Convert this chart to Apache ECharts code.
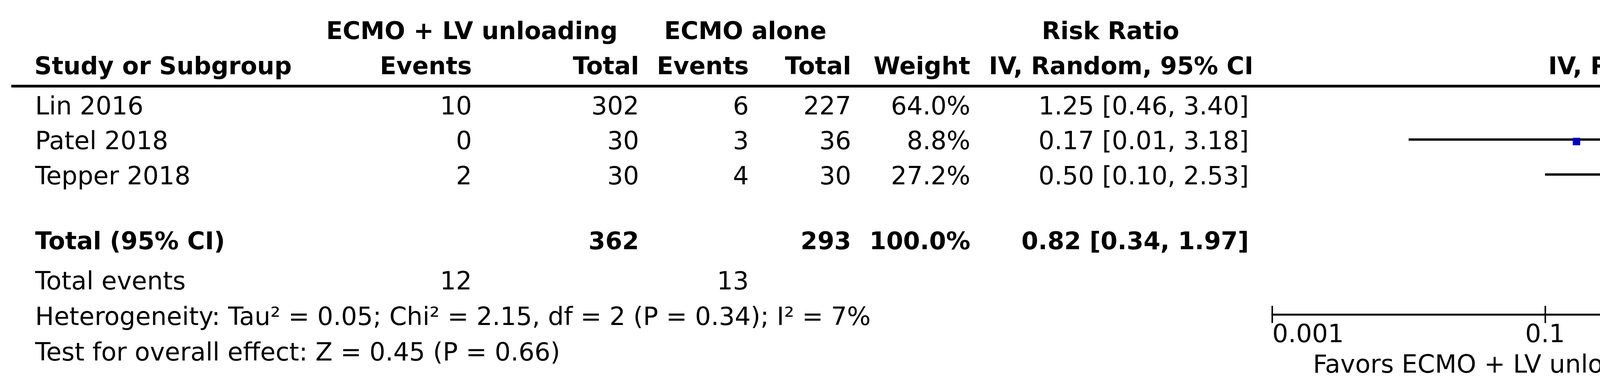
<!DOCTYPE html>
<html>
<head>
<meta charset="utf-8">
<script src="https://cdn.jsdelivr.net/npm/echarts@6/dist/echarts.min.js"></script>
<style>
html,body{margin:0;padding:0;background:#fff;overflow:hidden;}
#chart{width:5450px;height:1001px;}
</style>
</head>
<body>
<div id="chart"></div>
<script>
// ---------------- data ----------------
const studies = ['Lin 2016', 'Patel 2018', 'Tepper 2018'];
const expEvents = [10, 0, 2];
const expTotal = [302, 30, 30];
const ctrlEvents = [6, 3, 4];
const ctrlTotal = [227, 36, 30];
const weights = [64.0, 8.8, 27.2];
const rr = [1.25, 0.17, 0.50];
const rrLow = [0.46, 0.01, 0.10];
const rrHigh = [3.40, 3.18, 2.53];
const pooled = [0.82, 0.34, 1.97];           // estimate, low, high
const pooledWeight = 100.0;
const xTicks = [0.001, 0.1, 1, 10, 1000];
const xTickLabels = ['0.001', '0.1', '1', '10', '1000'];
const hetText = 'Heterogeneity: Tau\u00B2 = 0.05; Chi\u00B2 = 2.15, df = 2 (P = 0.34); I\u00B2 = 7%';
const testText = 'Test for overall effect: Z = 0.45 (P = 0.66)';
const groupLabels = ['ECMO + LV unloading', 'ECMO alone'];
const favorsLabels = ['Favors ECMO + LV unloading', 'Favors ECMO alone'];

// ---------------- layout ----------------
const FONT = '"DejaVu Sans", "Noto Sans", sans-serif';
const REG = '64px ' + FONT;
const BOLD = 'bold 62px ' + FONT;
const rowIdx = [0, 1, 2];
const totalRowIdx = 4;
const rowTextY = [276, 365.5, 455];
const sum = a => a.reduce((s, v) => s + v, 0);
const fmtCI = (e, l, h) => e.toFixed(2) + ' [' + l.toFixed(2) + ', ' + h.toFixed(2) + ']';

function txt(text, x, y, align, font) {
  return {
    type: 'text', x: x, y: y, silent: true,
    style: { text: text, font: font || REG, fill: '#000',
      align: align, textAlign: align, verticalAlign: 'middle', textVerticalAlign: 'middle' }
  };
}

const els = [];
els.push(txt(groupLabels[0], 1208, 84, 'center', BOLD));
els.push(txt(groupLabels[1], 1908, 84, 'center', BOLD));
els.push(txt('Risk Ratio', 2843, 84, 'center', BOLD));
els.push(txt('Risk Ratio', 4302, 84, 'center', BOLD));
els.push(txt('Study or Subgroup', 88, 174, 'left', BOLD));
els.push(txt('Events', 1208, 174, 'right', BOLD));
els.push(txt('Total', 1636, 174, 'right', BOLD));
els.push(txt('Events', 1917, 174, 'right', BOLD));
els.push(txt('Total', 2179, 174, 'right', BOLD));
els.push(txt('Weight', 2484, 174, 'right', BOLD));
els.push(txt('IV, Random, 95% CI', 2870, 174, 'center', BOLD));
els.push(txt('IV, Random, 95% CI', 4302, 174, 'center', BOLD));
els.push({ type: 'line', silent: true, shape: { x1: 29, y1: 220.5, x2: 5417, y2: 220.5 },
  style: { stroke: '#000', lineWidth: 7 } });
studies.forEach((s, i) => {
  const y = rowTextY[i];
  els.push(txt(s, 90, y, 'left'));
  els.push(txt(String(expEvents[i]), 1208, y, 'right'));
  els.push(txt(String(expTotal[i]), 1636, y, 'right'));
  els.push(txt(String(ctrlEvents[i]), 1917, y, 'right'));
  els.push(txt(String(ctrlTotal[i]), 2179, y, 'right'));
  els.push(txt(weights[i].toFixed(1) + '%', 2484, y, 'right'));
  els.push(txt(fmtCI(rr[i], rrLow[i], rrHigh[i]), 3197, y, 'right'));
});
els.push(txt('Total (95% CI)', 90, 622, 'left', BOLD));
els.push(txt(String(sum(expTotal)), 1636, 622, 'right', BOLD));
els.push(txt(String(sum(ctrlTotal)), 2179, 622, 'right', BOLD));
els.push(txt(pooledWeight.toFixed(1) + '%', 2484, 622, 'right', BOLD));
els.push(txt(fmtCI(pooled[0], pooled[1], pooled[2]), 3197, 622, 'right', BOLD));
els.push(txt('Total events', 90, 724, 'left'));
els.push(txt(String(sum(expEvents)), 1208, 724, 'right'));
els.push(txt(String(sum(ctrlEvents)), 1917, 724, 'right'));
els.push(txt(hetText, 90, 815, 'left'));
els.push(txt(testText, 90, 906, 'left'));
els.push(txt(favorsLabels[0], 4283, 937, 'right'));
els.push(txt(favorsLabels[1], 4334, 937, 'left'));

const chart = echarts.init(document.getElementById('chart'), null, { renderer: 'canvas' });

function fmtTick(v) {
  for (let i = 0; i < xTicks.length; i++) {
    if (Math.abs(Math.log10(v) - Math.log10(xTicks[i])) < 1e-6) return xTickLabels[i];
  }
  return '';
}

const gridPos = { left: 3257, right: 98, top: 223, height: 582 };

const option = {
  backgroundColor: '#fff',
  animation: false,
  grid: [
    Object.assign({ containLabel: false }, gridPos),
    Object.assign({ containLabel: false }, gridPos)
  ],
  xAxis: [{
    type: 'log', logBase: 10, min: 0.001, max: 1000, gridIndex: 0, position: 'bottom',
    axisLine: { show: true, onZero: false, lineStyle: { color: '#000', width: 5 } },
    axisTick: { show: true, customValues: xTicks, length: 22, inside: false,
      lineStyle: { color: '#000', width: 4 } },
    axisLabel: { show: true, customValues: xTicks, formatter: fmtTick, margin: 22,
      color: '#000', fontSize: 64, fontFamily: FONT,
      alignMinLabel: 'left', alignMaxLabel: 'right' },
    splitLine: { show: false }, minorTick: { show: false }
  }, {
    type: 'log', logBase: 10, min: 0.001, max: 1000, gridIndex: 1, position: 'bottom',
    axisLine: { show: false, onZero: false },
    axisTick: { show: true, customValues: xTicks, length: 22, inside: true,
      lineStyle: { color: '#000', width: 4 } },
    axisLabel: { show: false },
    splitLine: { show: false }
  }],
  yAxis: [{
    type: 'value', inverse: true, min: -0.5, max: 6, gridIndex: 0, show: false
  }, {
    type: 'value', inverse: true, min: -0.5, max: 6, gridIndex: 1, show: false
  }],
  graphic: { elements: els },
  series: [
    {
      name: 'null', type: 'line', xAxisIndex: 0, yAxisIndex: 0, symbol: 'none', z: 1,
      data: [[1, -0.5], [1, 6]],
      lineStyle: { color: '#000', width: 5 }, silent: true
    },
    {
      name: 'ci', type: 'custom', xAxisIndex: 0, yAxisIndex: 0, z: 2, clip: false,
      encode: { x: [0, 1], y: 2 },
      data: rowIdx.map(i => [rrLow[i], rrHigh[i], i]),
      renderItem: function (params, api) {
        const a = api.coord([api.value(0), api.value(2)]);
        const b = api.coord([api.value(1), api.value(2)]);
        return { type: 'line', shape: { x1: a[0], y1: a[1], x2: b[0], y2: b[1] },
          style: { stroke: '#000', lineWidth: 6 } };
      }
    },
    {
      name: 'estimate', type: 'scatter', xAxisIndex: 0, yAxisIndex: 0, z: 3,
      symbol: 'rect', symbolOffset: [0, 5],
      data: rowIdx.map(i => [rr[i], i, weights[i]]),
      symbolSize: v => 11 + 0.925 * v[2],
      itemStyle: { color: '#0000c0', opacity: 1 }, silent: true
    },
    {
      name: 'pooled', type: 'custom', xAxisIndex: 0, yAxisIndex: 0, z: 4, clip: false,
      encode: { x: [0, 1, 2], y: 3 },
      data: [[pooled[0], pooled[1], pooled[2], totalRowIdx]],
      renderItem: function (params, api) {
        const c = api.coord([api.value(0), api.value(3)]);
        const l = api.coord([api.value(1), api.value(3)]);
        const r = api.coord([api.value(2), api.value(3)]);
        const h = 40;
        return { type: 'polygon',
          shape: { points: [[l[0], c[1]], [c[0], c[1] - h], [r[0], c[1]], [c[0], c[1] + h]] },
          style: { fill: '#000' } };
      }
    }
  ]
};
chart.setOption(option);
</script>
</body>
</html>
